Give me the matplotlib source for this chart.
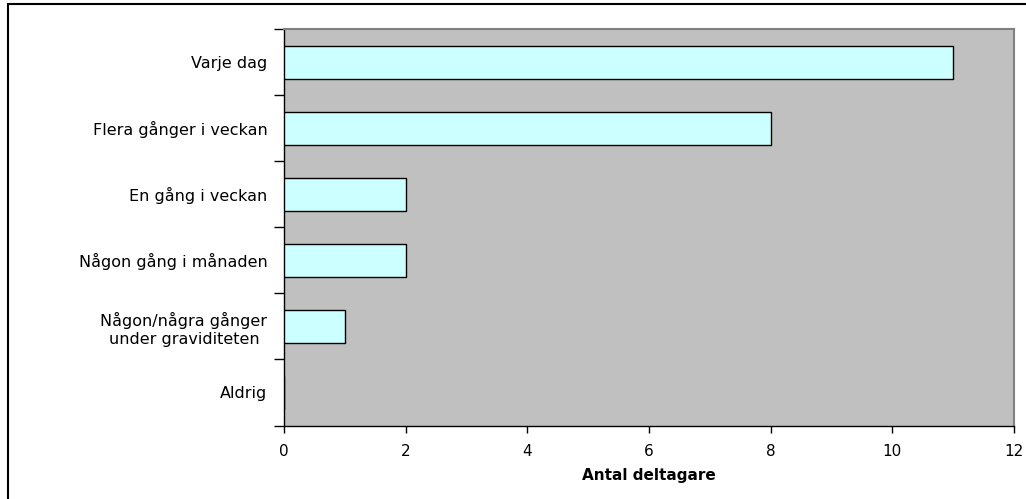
import matplotlib
matplotlib.use("Agg")
import matplotlib.pyplot as plt
from matplotlib.patches import Rectangle

categories = [
    "Varje dag",
    "Flera gånger i veckan",
    "En gång i veckan",
    "Någon gång i månaden",
    "Någon/några gånger\nunder graviditeten",
    "Aldrig",
]
counts = [11, 8, 2, 2, 1, 0]
x_ticks = [0, 2, 4, 6, 8, 10, 12]

plt.rcParams["font.family"] = ["DejaVu Sans"]

W, H = 1026, 499
fig = plt.figure(figsize=(W / 100, H / 100), dpi=100)

# outer chart frame
fig.patches.append(Rectangle((8 / W, -0.01), 1.02, (H - 4) / H + 0.01,
                             transform=fig.transFigure, fill=False,
                             edgecolor="black", linewidth=1.5))

left, top, right, bottom = 284, 29, 1014, 425.5
ax = fig.add_axes([left / W, 1 - bottom / H, (right - left) / W, (bottom - top) / H])
ax.set_facecolor("#C0C0C0")

n = len(categories)
ypos = list(range(n))
ax.barh(ypos, counts, height=0.5, color="#CCFFFF", edgecolor="black", linewidth=1.0, zorder=3)

ax.set_xlim(0, 12)
ax.set_ylim(n - 0.5, -0.5)
ax.set_xticks(x_ticks)
ax.set_xticklabels([str(v) for v in x_ticks], fontsize=11)

ax.set_yticks(ypos)
ax.set_yticklabels(categories, fontsize=11.5, ha="right", multialignment="center",
                   linespacing=1.3)
ax.tick_params(axis="y", which="major", length=0, pad=12)
ax.set_yticks([i - 0.5 for i in range(n + 1)], minor=True)
ax.tick_params(axis="y", which="minor", length=7, width=1, color="black", direction="out")
ax.tick_params(axis="x", length=5, width=1, color="black", direction="out", pad=8)

for side in ("top", "right"):
    ax.spines[side].set_color("#808080")
    ax.spines[side].set_linewidth(1.5)
for side in ("left", "bottom"):
    ax.spines[side].set_color("black")
    ax.spines[side].set_linewidth(1.0)

ax.set_xlabel("Antal deltagare", fontsize=11, fontweight="bold", labelpad=7)

fig.savefig("out.png", dpi=100)
